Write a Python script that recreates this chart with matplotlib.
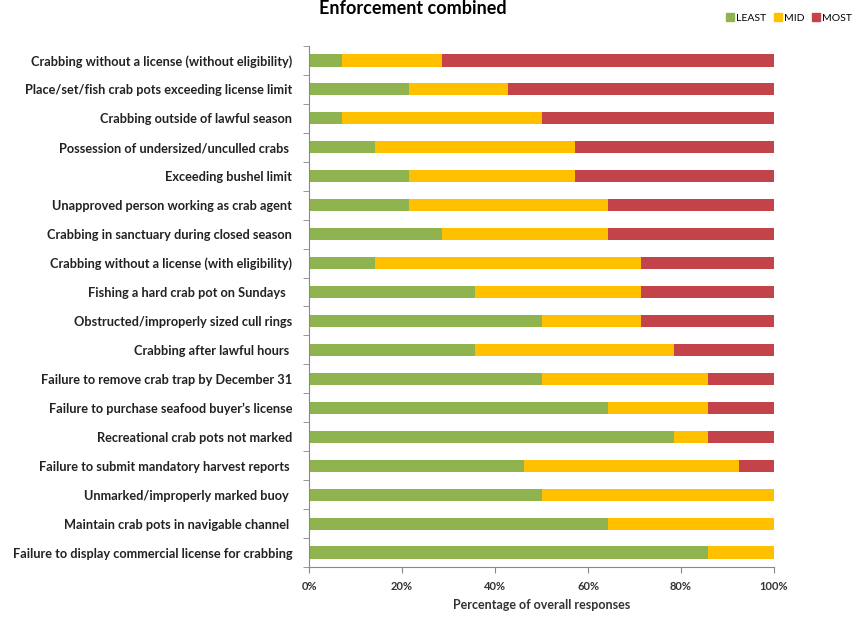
import matplotlib
matplotlib.use("Agg")
import matplotlib.pyplot as plt
from matplotlib.patches import Patch
import numpy as np

categories = [
    "Crabbing without a license (without eligibility)",
    "Place/set/fish crab pots exceeding license limit",
    "Crabbing outside of lawful season",
    "Possession of undersized/unculled crabs ",
    "Exceeding bushel limit",
    "Unapproved person working as crab agent",
    "Crabbing in sanctuary during closed season",
    "Crabbing without a license (with eligibility)",
    "Fishing a hard crab pot on Sundays  ",
    "Obstructed/improperly sized cull rings",
    "Crabbing after lawful hours ",
    "Failure to remove crab trap by December 31",
    "Failure to purchase seafood buyer\u2019s license",
    "Recreational crab pots not marked",
    "Failure to submit mandatory harvest reports ",
    "Unmarked/improperly marked buoy ",
    "Maintain crab pots in navigable channel ",
    "Failure to display commercial license for crabbing",
]
least = [7.1, 21.4, 7.1, 14.3, 21.4, 21.4, 28.6, 14.3, 35.7, 50.0, 35.7, 50.0, 64.3, 78.6, 46.2, 50.0, 64.3, 85.7]
mid = [21.4, 21.4, 42.9, 42.9, 35.7, 42.9, 35.7, 57.1, 35.7, 21.4, 42.9, 35.7, 21.4, 7.1, 46.2, 50.0, 35.7, 14.3]
most = [71.4, 57.1, 50.0, 42.9, 42.9, 35.7, 35.7, 28.6, 28.6, 28.6, 21.4, 14.3, 14.3, 14.3, 7.7, 0.0, 0.0, 0.0]
series_names = ["LEAST", "MID", "MOST"]
xticks = [0, 20, 40, 60, 80, 100]
xticklabels = ["0%", "20%", "40%", "60%", "80%", "100%"]

colors = ["#8FB34E", "#FFC000", "#C4424A"]
font = ["Lato", "DejaVu Sans"]
plt.rcParams["font.family"] = font

fig = plt.figure(figsize=(8.59, 6.17), dpi=100)
ax = fig.add_axes([309 / 859, 1 - 567 / 617, (774 - 309) / 859, (567 - 46) / 617])

y = np.arange(len(categories))
left = np.zeros(len(categories))
for vals, col, name in zip([least, mid, most], colors, series_names):
    v = np.array(vals)
    ax.barh(y, v, left=left, height=0.42, color=col, label=name)
    left = left + v

ax.set_ylim(len(categories) - 0.5, -0.5)
ax.set_xlim(0, 100)
ax.set_yticks(y)
ax.set_yticklabels(categories, fontsize=9.2, fontweight="bold", color="#222222")
ax.set_yticks(np.arange(len(categories) + 1) - 0.5, minor=True)
ax.tick_params(axis="y", which="major", length=0, pad=12)
ax.tick_params(axis="y", which="minor", length=4, color="#888888")
ax.set_xticks(xticks)
ax.set_xticklabels(xticklabels, fontsize=8, fontweight="bold", color="#333333")
ax.tick_params(axis="x", length=4, color="#888888", pad=6)
for s in ["top", "right"]:
    ax.spines[s].set_visible(False)
for s in ["left", "bottom"]:
    ax.spines[s].set_color("#888888")
ax.set_xlabel("Percentage of overall responses", fontsize=9, fontweight="bold", color="#333333", labelpad=5)

fig.text(413 / 859, 1 - 14 / 617, "Enforcement combined", fontsize=13, fontweight="bold",
         ha="center", va="baseline")

handles = [Patch(color=c) for c in colors]
fig.legend(handles, series_names, loc="upper right", bbox_to_anchor=(1.0, 1 - 6 / 617), ncol=3,
           frameon=False, fontsize=7.5, handlelength=0.7, handleheight=0.7,
           handletextpad=0.2, columnspacing=0.8, borderaxespad=0.3)

fig.savefig("out.png", dpi=100)
